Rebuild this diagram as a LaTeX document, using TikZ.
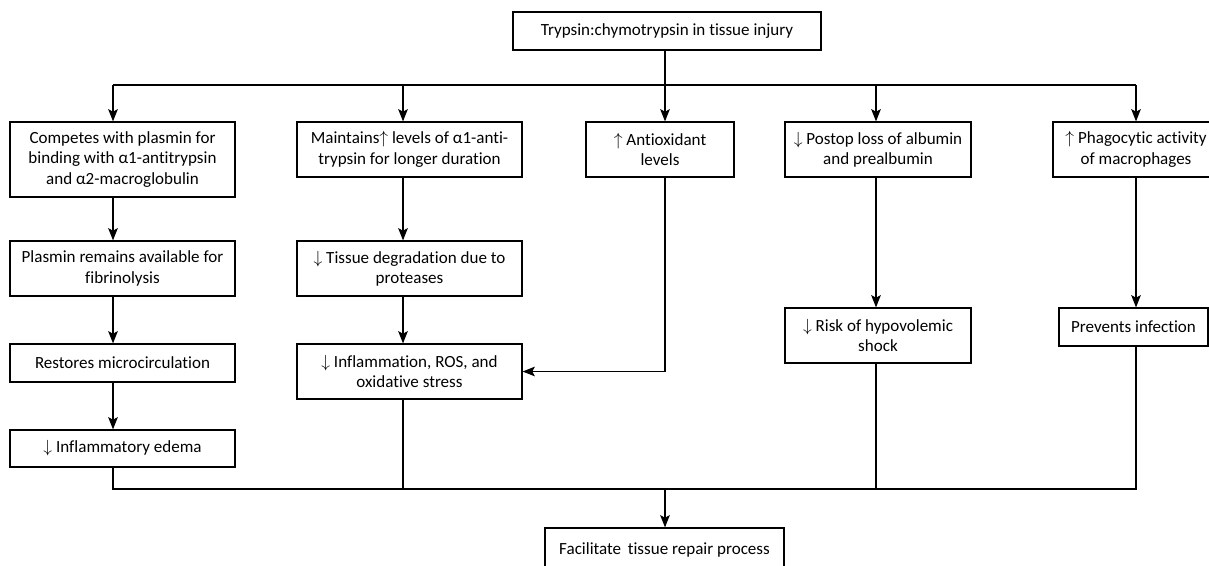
\documentclass[tikz,border=0pt]{standalone}
\usepackage{fontspec}
\setmainfont{Carlito}[Ligatures=NoCommon]
\usepackage{tikz}
\usetikzlibrary{arrows.meta,positioning}

\begin{document}
\begin{tikzpicture}[x=0.02cm,y=-0.02cm,
    every node/.style={font=\fontsize{9.7}{11.6}\selectfont},
    box/.style={draw,line width=0.7pt,rectangle,align=center,inner sep=1pt,minimum height=#1*0.02cm},
    box/.default=55,
    link/.style={line width=0.6pt},
    arr/.style={link,-{Stealth[length=7pt,width=5.5pt,inset=1.5pt]}}]
      \useasboundingbox (0,0) rectangle (1209,565);
      \node[box=38,minimum width=6.16cm] (t) at (667,31) {Trypsin:chymotrypsin in tissue injury};
      % first row
      \node[box=75,minimum width=4.5cm] (a1) at (122.5,159.5) {Competes with plasmin for\\binding with α1-antitrypsin\\and α2-macroglobulin};
      \node[box,minimum width=4.5cm] (a2) at (409.5,149.5) {Maintains$\uparrow$ levels of α1-anti-\\trypsin for longer duration};
      \node[box,minimum width=2.96cm] (a3) at (660,149.5) {$\uparrow$ Antioxidant\\levels};
      \node[box,minimum width=3.72cm] (a4) at (878,149.5) {$\downarrow$ Postop loss of albumin\\and prealbumin};
      \node[box,minimum width=3.32cm] (a5) at (1136,149.5) {$\uparrow$ Phagocytic activity\\of macrophages};
      % lower rows
      \node[box,minimum width=4.5cm] (b1) at (122.5,268.5) {Plasmin remains available for\\fibrinolysis};
      \node[box,minimum width=4.5cm] (b2) at (409.5,268.5) {$\downarrow$ Tissue degradation due to\\proteases};
      \node[box=38,minimum width=4.5cm] (c1) at (122.5,363) {Restores microcirculation};
      \node[box,minimum width=4.5cm] (c2) at (409.5,371.5) {$\downarrow$ Inflammation, ROS, and\\oxidative stress};
      \node[box=37,minimum width=4.5cm] (d1) at (122.5,448.5) {$\downarrow$ Inflammatory edema};
      \node[box,minimum width=3.72cm] (b4) at (878,335.5) {$\downarrow$ Risk of hypovolemic\\shock};
      \node[box=38,minimum width=2.98cm] (b5) at (1133.5,327) {Prevents infection};
      \node[box=44,minimum width=4.78cm] (r) at (664.5,550) {Facilitate\, tissue repair process};
      % buses
      \coordinate (k1) at (113,85);
      \coordinate (k2) at (403,85);
      \coordinate (k3) at (665,85);
      \coordinate (k4) at (876,85);
      \coordinate (k5) at (1136,85);
      \coordinate (m) at (665,489);
      \draw[link] (t.south -| k3) -- (k3);
      \draw[link] (k1) -- (k5);
      \foreach \i in {1,...,5}
        \draw[arr] (k\i) -- (k\i |- a\i.north);
      \draw[arr] (a1.south -| k1) -- (b1.north -| k1);
      \draw[arr] (b1.south -| k1) -- (c1.north -| k1);
      \draw[arr] (c1.south -| k1) -- (d1.north -| k1);
      \draw[arr] (a2.south -| k2) -- (b2.north -| k2);
      \draw[arr] (b2.south -| k2) -- (c2.north -| k2);
      \draw[arr] (a3.south -| k3) |- (c2.east);
      \draw[arr] (a4.south -| k4) -- (b4.north -| k4);
      \draw[arr] (a5.south -| k5) -- (b5.north -| k5);
      \draw[link] (d1.south -| k1) |- (m);
      \draw[link] (c2.south -| k2) -- (k2 |- m);
      \draw[link] (b4.south -| k4) -- (k4 |- m);
      \draw[link] (b5.south -| k5) |- (m);
      \draw[arr] (m) -- (r.north -| m);
    \end{tikzpicture}
\end{document}
